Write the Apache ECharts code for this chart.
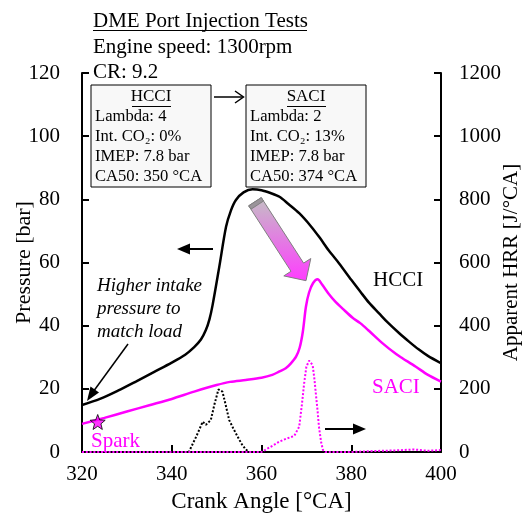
<!DOCTYPE html>
<html>
<head>
<meta charset="utf-8">
<title>DME Port Injection Tests</title>
<script src="https://cdn.jsdelivr.net/npm/echarts@6/dist/echarts.min.js"></script>
<style>
	html, body {margin:0;padding:0;background:#fff;}
	#main {width:528px;height:516px;}
</style>
</head>
<body>
<div id="main"></div>
<script>
	// crank angle [°CA] / pressure [bar], HCCI
	var caPHcci = [320, 324, 328, 332, 336, 340, 343, 345, 346.5, 347.6, 348.4, 349.1, 350.6, 352.1, 353.2, 354.3, 356, 358, 360, 362, 364, 366, 368.4, 371, 373, 375, 377.3, 380, 382, 384, 386.2, 388, 390.7, 393, 395, 397, 400];
	var pHcci = [14.9, 16.8, 19.4, 22.3, 25.3, 28.3, 30.8, 33.2, 35.6, 38.6, 42.0, 46.5, 58.7, 71.3, 76.5, 79.8, 82.2, 83.2, 82.9, 82.0, 80.8, 78.5, 75.6, 71.5, 67.8, 63.8, 59.7, 54.5, 50.8, 47.2, 43.9, 41.2, 37.6, 34.8, 32.5, 30.5, 28.1];
	// SACI
	var caPSaci = [320, 325, 330, 335, 340, 345, 350, 353, 356.5, 360, 362.4, 364, 365.4, 366.5, 367.7, 368.5, 369.2, 369.9, 370.6, 371.5, 372.5, 373.5, 375, 376.5, 378, 380.3, 382, 384, 387, 390, 391.4, 394.4, 397, 400];
	var pSaci = [8.9, 10.8, 12.8, 14.8, 16.8, 19.1, 21.2, 22.2, 22.8, 23.5, 24.4, 25.5, 26.5, 28.0, 30.2, 33.0, 38.0, 46.0, 50.5, 53.5, 54.7, 53.0, 50.0, 47.5, 45.5, 42.5, 40.8, 38.3, 34.4, 31.0, 29.7, 27.0, 24.5, 22.3];
	// apparent HRR [J/°CA]
	var caHrrHcci = [320, 343.8, 344.2, 345.5, 346.9, 347.6, 348.7, 349.5, 350.4, 351.3, 352, 352.8, 353.7, 354.7, 355.6, 356.5, 357.2, 400];
	var hrrHcci = [0, 0, 6, 50, 96, 86, 101, 150, 198, 191, 150, 101, 75, 48, 25, 8, 0, 0];
	var caHrrSaci = [320, 360, 361, 362.5, 364, 365.5, 367.3, 368.4, 369, 369.5, 370, 370.6, 371.4, 371.8, 372.1, 372.5, 372.8, 373.3, 373.7, 374.2, 380, 385, 390, 394, 397, 400];
	var hrrSaci = [0, 0, 8, 20, 33, 42, 51, 80, 150, 217, 270, 289, 275, 230, 186, 130, 80, 30, 6, 0, 0, 3, 5, 8, 4, 6];
	// spark timing
	var spark = [[323.5, 9.5]];

	var xTicks = [320, 340, 360, 380, 400];
	var pTicks = [0, 20, 40, 60, 80, 100, 120];
	var hrrTicks = [0, 200, 400, 600, 800, 1000, 1200];

	var hcciBox = ['Lambda: 4', 'Int. CO\u2082: 0%', 'IMEP: 7.8 bar', 'CA50: 350 \u00b0CA'];
	var saciBox = ['Lambda: 2', 'Int. CO\u2082: 13%', 'IMEP: 7.8 bar', 'CA50: 374 \u00b0CA'];

	var FONT = '"Liberation Serif", "Times New Roman", serif';
	var MAG = '#ff00ff';

	function pairs(xs, ys) {
		var out = [];
		for (var i = 0; i < xs.length; i++) out.push([xs[i], ys[i]]);
		return out;
	}

	function txt(s, x, y, size, opt) {
		opt = opt || {};
		return {
			type: 'text', z: 100,
			style: {
				text: s, x: x, y: y,
				font: (opt.italic ? 'italic ' : '') + size + 'px ' + FONT,
				fill: opt.color || '#000',
				textAlign: opt.align || 'left',
				textVerticalAlign: 'middle', verticalAlign: 'middle'
			}
		};
	}
	function line(x1, y1, x2, y2, w, c) {
		return {type: 'line', z: 100, shape: {x1: x1, y1: y1, x2: x2, y2: y2}, style: {stroke: c || '#000', lineWidth: w || 1}};
	}
	function tri(pts, c) {
		return {type: 'polygon', z: 100, shape: {points: pts}, style: {fill: c || '#000'}};
	}

	var g = [];
	// header
	g.push(txt('DME Port Injection Tests', 93, 21, 21));
	g.push(line(93, 30.5, 307, 30.5, 1));
	g.push(txt('Engine speed: 1300rpm', 93, 47, 21));
	g.push(txt('CR: 9.2', 93, 72, 21));
	// boxes
	function box(x, title, rows) {
		g.push({type: 'rect', z: 90, shape: {x: x, y: 85, width: 120, height: 102}, style: {fill: '#f8f8f8', stroke: '#000', lineWidth: 1}});
		g.push(txt(title, x + 60, 97, 17, {align: 'center'}));
		g.push(line(x + 41, 106.5, x + 80, 106.5, 1));
		for (var i = 0; i < rows.length; i++) g.push(txt(rows[i], x + 4, 117 + i * 20, 16.6));
	}
	box(91, 'HCCI', hcciBox);
	box(246, 'SACI', saciBox);
	g.push(line(214, 97, 243, 97, 1.5));
	g.push({type: 'polyline', z: 100, shape: {points: [[235, 91], [243.5, 97], [235, 103]]}, style: {stroke: '#000', lineWidth: 1.5, fill: null}});
	// "higher intake pressure" note
	g.push(txt('Higher intake', 97, 286, 19, {italic: true}));
	g.push(txt('pressure to', 97, 309, 19, {italic: true}));
	g.push(txt('match load', 97, 332, 19, {italic: true}));
	g.push(line(128, 344, 93, 392, 1.5));
	g.push(tri([[87, 401], [99, 392.5], [90.5, 386.5]]));
	// axis direction arrows
	g.push(line(213, 249, 186, 249, 2));
	g.push(tri([[177, 249], [190, 243.5], [190, 254.5]]));
	g.push(line(325, 429, 356, 429, 2));
	g.push(tri([[366, 429], [353, 423.5], [353, 434.5]]));
	// big gradient arrow
	g.push({
		type: 'polygon', z: 95,
		shape: {points: [[261.3, 197.6], [303.6, 263.1], [310.8, 258.5], [306, 280.7], [283.8, 275.9], [291, 271.3], [248.7, 205.8]]},
		style: {
			fill: new echarts.graphic.LinearGradient(0, 0, 0, 1, [{offset: 0, color: '#c4c0c4'}, {offset: 1, color: '#ff3cff'}]),
			stroke: '#808080', lineWidth: 1
		}
	});
	g.push({type: 'polygon', z: 96, shape: {points: [[261.3, 197.6], [263.5, 201], [251, 209.2], [248.7, 205.8]]}, style: {fill: '#9a949a', stroke: '#808080', lineWidth: 1}});
	// curve labels
	g.push(txt('HCCI', 373, 280, 21));
	g.push(txt('SACI', 372, 387, 21, {color: MAG}));
	g.push(txt('Spark', 91, 441, 21, {color: MAG}));

	var chart = echarts.init(document.getElementById('main'));
	var axisCommon = {
		axisLine: {show: true, lineStyle: {color: '#000', width: 2}},
		axisTick: {show: true, inside: true, length: 7, lineStyle: {color: '#000', width: 2}},
		axisLabel: {color: '#000', fontFamily: FONT, fontSize: 21, formatter: function (v) { return String(v); }},
		splitLine: {show: false},
		nameMoveOverlap: false,
		nameTextStyle: {color: '#000', fontFamily: FONT, fontSize: 22}
	};
	var option = {
		animation: false,
		backgroundColor: '#fff',
		grid: {left: 82, right: 87, top: 73, bottom: 64, containLabel: false, outerBoundsMode: 'none'},
		xAxis: echarts.util.merge({
			type: 'value', min: xTicks[0], max: xTicks[xTicks.length - 1], interval: 20,
			name: 'Crank Angle [\u00b0CA]', nameLocation: 'middle', nameGap: 38,
			nameTextStyle: {fontSize: 23},
			axisLabel: {margin: 12}
		}, axisCommon),
		yAxis: [
			echarts.util.merge({
				type: 'value', min: pTicks[0], max: pTicks[pTicks.length - 1], interval: 20,
				name: 'Pressure [bar]', nameLocation: 'middle', nameGap: 47,
				axisLabel: {margin: 22}
			}, axisCommon),
			echarts.util.merge({
				type: 'value', position: 'right', min: hrrTicks[0], max: hrrTicks[hrrTicks.length - 1], interval: 200,
				name: 'Apparent HRR [J/\u00b0CA]', nameLocation: 'middle', nameGap: 60,
				nameTextStyle: {fontSize: 21},
				axisLabel: {margin: 18}
			}, axisCommon)
		],
		graphic: g,
		series: [
			{type: 'line', name: 'HCCI HRR', yAxisIndex: 1, data: pairs(caHrrHcci, hrrHcci), showSymbol: false,
				lineStyle: {color: '#000', width: 2, type: [2, 1.8]}, z: 3},
			{type: 'line', name: 'SACI HRR', yAxisIndex: 1, data: pairs(caHrrSaci, hrrSaci), showSymbol: false,
				lineStyle: {color: MAG, width: 2, type: [2, 1.8]}, z: 4},
			{type: 'line', name: 'HCCI', yAxisIndex: 0, data: pairs(caPHcci, pHcci), showSymbol: false, smooth: 0.3,
				lineStyle: {color: '#000', width: 2.5}, z: 5},
			{type: 'line', name: 'SACI', yAxisIndex: 0, data: pairs(caPSaci, pSaci), showSymbol: false, smooth: 0.3,
				lineStyle: {color: MAG, width: 2.5}, z: 6},
			{type: 'scatter', name: 'Spark', yAxisIndex: 0, data: spark,
				symbol: 'path://M12,1 L14.9,8.6 L23,9 L16.7,14.1 L18.8,22 L12,17.5 L5.2,22 L7.3,14.1 L1,9 L9.1,8.6 Z',
				symbolSize: 15, itemStyle: {color: MAG, borderColor: '#000', borderWidth: 1}, z: 7}
		]
	};
	chart.setOption(option);
</script>
</body>
</html>
